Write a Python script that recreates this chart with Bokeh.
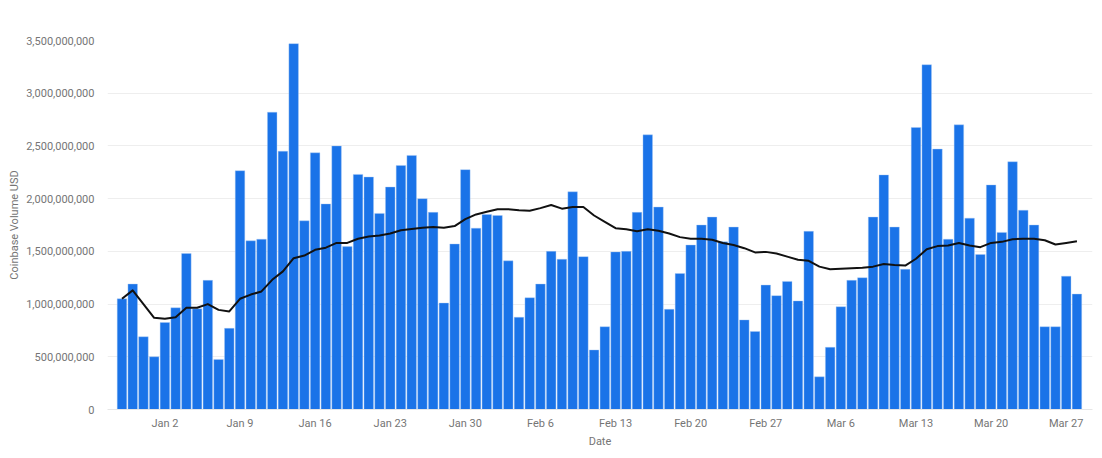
from bokeh.plotting import figure
from bokeh.embed import file_html
from bokeh.resources import INLINE
from bokeh.models import Range1d, FixedTicker, NumeralTickFormatter, ColumnDataSource

days = list(range(90))
volume = [1.05,1.19,0.69,0.50,0.825,0.965,1.48,0.955,1.225,0.475,
          0.77,2.265,1.60,1.615,2.82,2.45,3.47,1.79,2.435,1.95,
          2.50,1.545,2.23,2.205,1.86,2.11,2.315,2.41,2.00,1.87,
          1.01,1.57,2.275,1.72,1.85,1.84,1.41,0.875,1.06,1.19,
          1.50,1.425,2.065,1.45,0.565,0.785,1.495,1.50,1.87,2.605,
          1.92,0.95,1.29,1.56,1.75,1.825,1.59,1.73,0.85,0.74,
          1.18,1.08,1.215,1.03,1.69,0.31,0.59,0.975,1.225,1.25,
          1.825,2.225,1.73,1.33,2.675,3.27,2.47,1.615,2.70,1.815,
          1.47,2.13,1.68,2.35,1.89,1.75,0.785,0.785,1.265,1.095]
trend = [1.05,1.13,1.00,0.87,0.86,0.875,0.965,0.965,1.00,0.945,
         0.93,1.05,1.09,1.12,1.23,1.31,1.435,1.46,1.515,1.535,
         1.58,1.58,1.62,1.64,1.65,1.67,1.70,1.712,1.725,1.73,
         1.725,1.74,1.805,1.85,1.875,1.90,1.90,1.89,1.885,1.91,
         1.94,1.905,1.92,1.92,1.84,1.78,1.72,1.71,1.69,1.71,
         1.695,1.67,1.635,1.62,1.62,1.61,1.58,1.56,1.53,1.49,
         1.495,1.48,1.45,1.42,1.41,1.355,1.33,1.335,1.34,1.345,
         1.355,1.38,1.37,1.365,1.43,1.52,1.55,1.555,1.58,1.555,
         1.54,1.58,1.59,1.615,1.62,1.62,1.605,1.565,1.58,1.595]
tick_days = [4,11,18,25,32,39,46,53,60,67,74,81,88]
tick_labels = ["Jan 2","Jan 9","Jan 16","Jan 23","Jan 30","Feb 6","Feb 13","Feb 20","Feb 27","Mar 6","Mar 13","Mar 20","Mar 27"]
y_ticks = [0,500000000,1000000000,1500000000,2000000000,2500000000,3000000000,3500000000]

TEXT = "#757575"
src = ColumnDataSource(dict(day=days,
                            volume=[v*1e9 for v in volume],
                            trend=[v*1e9 for v in trend]))

p = figure(width=1094, height=450, output_backend="svg", toolbar_location=None,
           x_range=Range1d(-1.35, 90.45), y_range=Range1d(0, 3.5e9),
           min_border_left=107, min_border_right=2, min_border_top=40, min_border_bottom=39,
           x_axis_label="Date", y_axis_label="Coinbase Volume USD")
p.outline_line_color = None
p.background_fill_color = "white"

p.xgrid.grid_line_color = None
p.ygrid.grid_line_color = "#eeeeee"
p.ygrid.ticker = FixedTicker(ticks=y_ticks)

p.vbar(x="day", top="volume", bottom=0, width=0.89, source=src,
       fill_color="#1a73e8", line_color="#a9c9f5", line_width=0.4)
p.line(x="day", y="trend", source=src, line_color="#111111", line_width=2, line_join="round")

xa = p.xaxis[0]
xa.ticker = FixedTicker(ticks=tick_days)
xa.major_label_overrides = dict(zip(tick_days, tick_labels))
xa.axis_line_color = "#e6e6e6"
xa.major_tick_line_color = None
xa.minor_tick_line_color = None
xa.major_tick_out = 0
xa.major_tick_in = 0
xa.major_label_text_font = "Roboto"
xa.major_label_text_font_size = "11px"
xa.major_label_text_color = TEXT
xa.major_label_standoff = 7
xa.axis_label_text_font = "Roboto"
xa.axis_label_text_font_size = "11px"
xa.axis_label_text_font_style = "normal"
xa.axis_label_text_color = TEXT
xa.axis_label_standoff = 2

ya = p.yaxis[0]
ya.ticker = FixedTicker(ticks=y_ticks)
ya.formatter = NumeralTickFormatter(format="0,0")
ya.axis_line_color = None
ya.major_tick_line_color = None
ya.minor_tick_line_color = None
ya.major_tick_out = 0
ya.major_tick_in = 0
ya.major_label_text_font = "Roboto"
ya.major_label_text_font_size = "11px"
ya.major_label_text_color = TEXT
ya.major_label_standoff = 13
ya.axis_label_text_font = "Roboto"
ya.axis_label_text_font_size = "11px"
ya.axis_label_text_font_style = "normal"
ya.axis_label_text_color = TEXT
ya.axis_label_standoff = 2

open("out.html", "w").write(file_html(p, INLINE))
